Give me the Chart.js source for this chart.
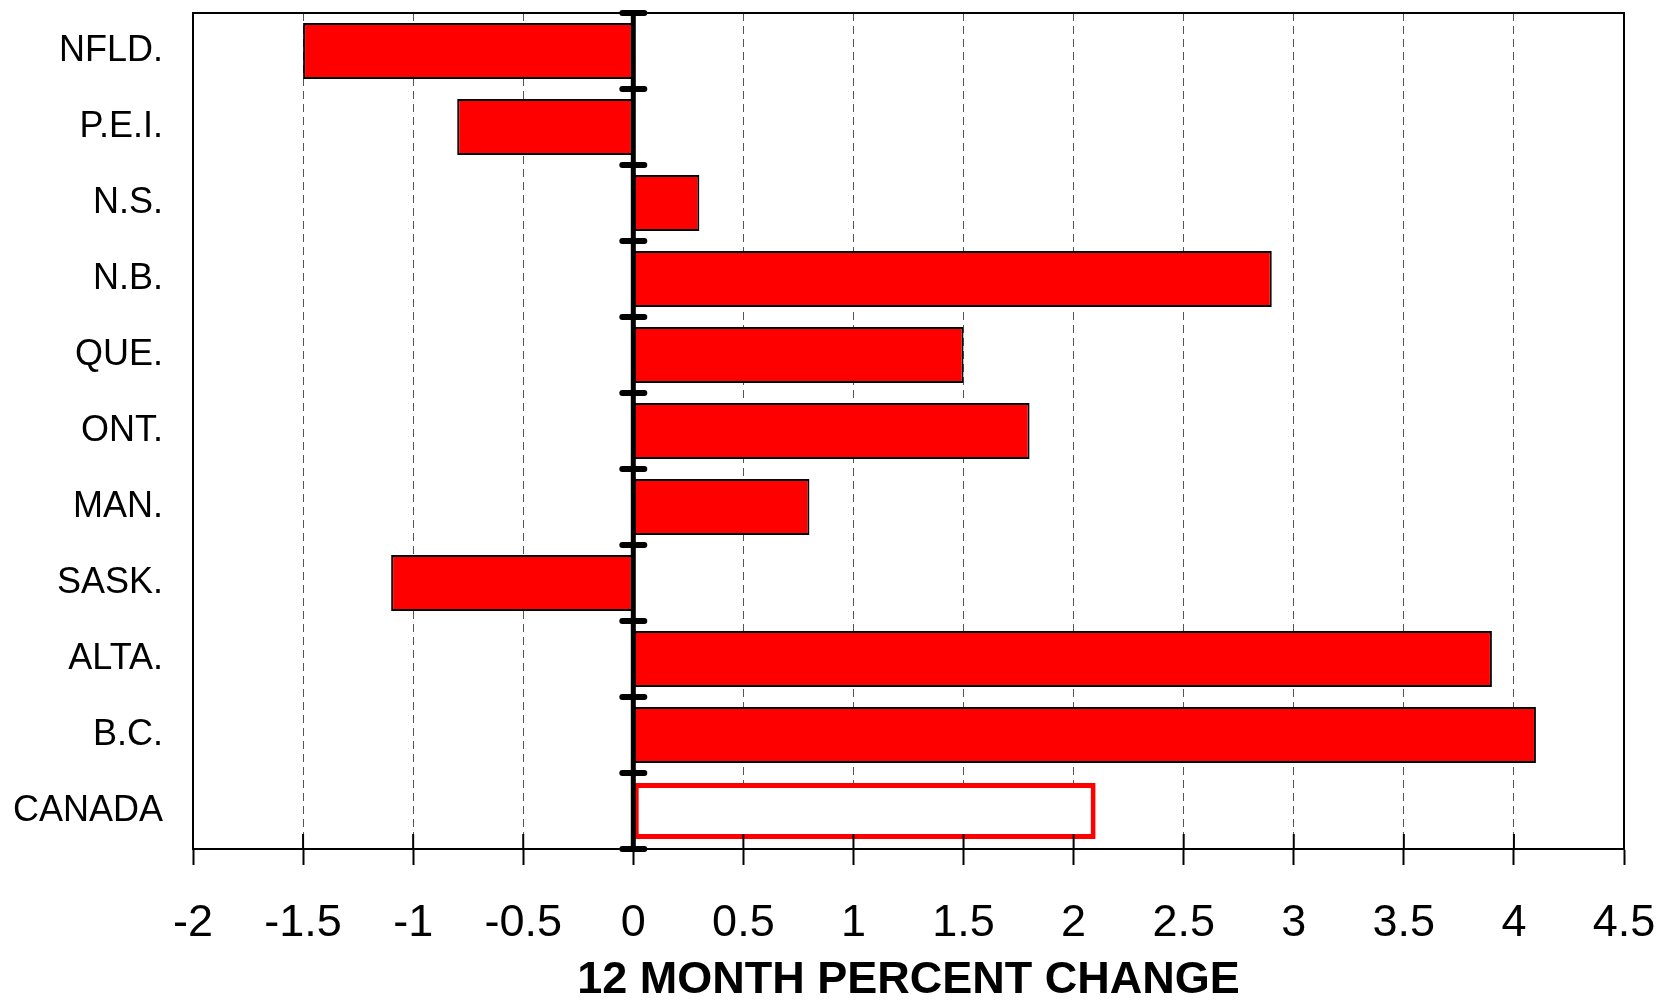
<!DOCTYPE html>
<html>
<head>
<meta charset="utf-8">
<script src="https://cdn.jsdelivr.net/npm/chart.js@4"></script>
<style>
  html, body { margin: 0; padding: 0; background: #fff; }
  #wrap { width: 1663px; height: 1001px; }
</style>
</head>
<body>
<div id="wrap"><canvas id="c" width="1663" height="1001"></canvas></div>
<script>
const categories = ['NFLD.', 'P.E.I.', 'N.S.', 'N.B.', 'QUE.', 'ONT.', 'MAN.', 'SASK.', 'ALTA.', 'B.C.', 'CANADA'];
const values = [-1.5, -0.8, 0.3, 2.9, 1.5, 1.8, 0.8, -1.1, 3.9, 4.1, 2.1];
const xTickValues = [-2, -1.5, -1, -0.5, 0, 0.5, 1, 1.5, 2, 2.5, 3, 3.5, 4, 4.5];
const xTickLabels = ['-2', '-1.5', '-1', '-0.5', '0', '0.5', '1', '1.5', '2', '2.5', '3', '3.5', '4', '4.5'];
const xTitle = '12 MONTH PERCENT CHANGE';

const fillColors = categories.map(c => c === 'CANADA' ? '#ffffff' : '#ff0000');
const borderColors = categories.map(c => c === 'CANADA' ? '#ff0000' : '#000000');
const borderWidths = categories.map(c => c === 'CANADA' ? 5 : 2);

const overlay = {
  id: 'overlay',
  afterDatasetsDraw(chart) {
    const { ctx, chartArea: a, scales: { x, y } } = chart;
    ctx.save();
    ctx.strokeStyle = '#000';
    // inner tick marks on the bottom axis
    ctx.lineWidth = 2;
    x.ticks.forEach(t => {
      const px = x.getPixelForValue(t.value);
      ctx.beginPath(); ctx.moveTo(px, a.bottom); ctx.lineTo(px, a.bottom - 15); ctx.stroke();
    });
    // frame
    ctx.lineWidth = 2;
    ctx.strokeRect(a.left, a.top, a.right - a.left, a.bottom - a.top);
    // zero axis
    const x0 = x.getPixelForValue(0);
    ctx.lineWidth = 5;
    ctx.beginPath(); ctx.moveTo(x0, a.top); ctx.lineTo(x0, a.bottom); ctx.stroke();
    ctx.lineWidth = 6; ctx.lineCap = 'round';
    for (let i = 0; i <= categories.length; i++) {
      const py = y.getPixelForValue(i - 0.5);
      ctx.beginPath(); ctx.moveTo(x0 - 11, py); ctx.lineTo(x0 + 11, py); ctx.stroke();
    }
    ctx.restore();
  }
};

new Chart(document.getElementById('c'), {
  type: 'bar',
  data: {
    labels: categories,
    datasets: [{
      data: values,
      backgroundColor: fillColors,
      borderColor: borderColors,
      borderWidth: borderWidths,
      borderSkipped: false,
      barPercentage: 0.74,
      categoryPercentage: 1.0
    }]
  },
  options: {
    indexAxis: 'y',
    responsive: false,
    animation: false,
    devicePixelRatio: 1,
    layout: { padding: { left: 0, right: 39, top: 13, bottom: 0 } },
    plugins: { legend: { display: false }, tooltip: { enabled: false }, title: { display: false } },
    scales: {
      x: {
        type: 'linear',
        min: -2, max: 4.5,
        afterBuildTicks(scale) { scale.ticks = xTickValues.map(v => ({ value: v })); },
        afterFit(scale) { scale.height = 152; scale.paddingLeft = 0; scale.paddingRight = 0; },
        ticks: {
          color: '#000',
          font: { family: 'Liberation Sans, Arial, sans-serif', size: 45 },
          padding: 32,
          maxRotation: 0,
          autoSkip: false,
          callback: (v) => { const i = xTickValues.indexOf(v); return i >= 0 ? xTickLabels[i] : ''; }
        },
        grid: {
          color: (ctx) => (ctx.tick && [-2, 0, 4.5].includes(ctx.tick.value)) ? 'rgba(0,0,0,0)' : '#555555',
          lineWidth: 1,
          drawTicks: true,
          tickLength: 16,
          tickColor: '#000',
          tickWidth: 2
        },
        border: { display: true, color: '#000', width: 2, dash: [8, 5] },
        title: {
          display: true,
          text: xTitle,
          color: '#000',
          font: { family: 'Liberation Sans, Arial, sans-serif', size: 45, weight: 'bold', lineHeight: 0.9 },
          padding: { top: 0, bottom: 0 }
        }
      },
      y: {
        type: 'category',
        offset: true,
        afterFit(scale) { scale.width = 193; scale.paddingTop = 0; scale.paddingBottom = 0; },
        ticks: {
          color: '#000',
          font: { family: 'Liberation Sans, Arial, sans-serif', size: 36, lineHeight: 1.1 },
          padding: 30
        },
        grid: { display: false, drawTicks: false },
        border: { display: true, color: '#000', width: 2 }
      }
    }
  },
  plugins: [overlay]
});
</script>
</body>
</html>
